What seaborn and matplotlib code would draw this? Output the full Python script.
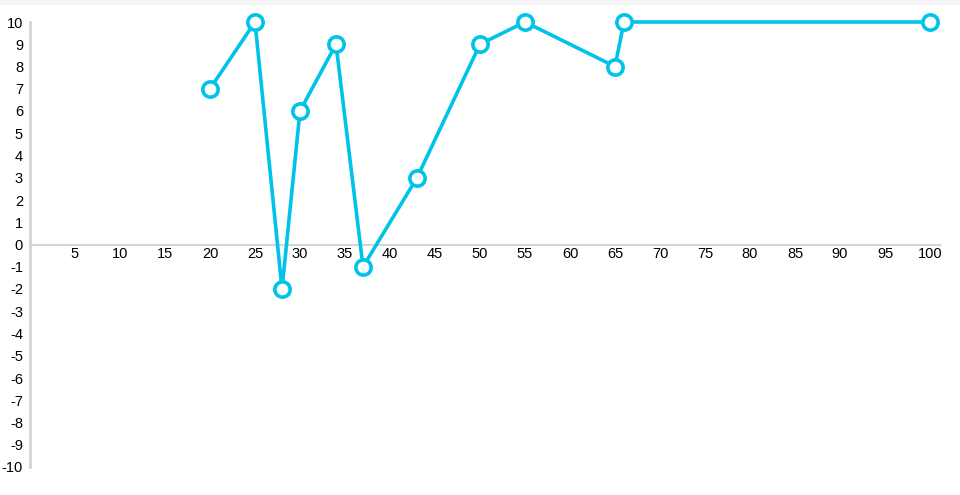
import matplotlib
matplotlib.use("Agg")
import matplotlib.pyplot as plt
from matplotlib.patches import Rectangle
import seaborn as sns
import pandas as pd

# 数据
x_vals = [20, 25, 28, 30, 34, 37, 43, 50, 55, 65, 66, 100]
y_vals = [7, 10, -2, 6, 9, -1, 3, 9, 10, 8, 10, 10]
x_ticks = list(range(5, 101, 5))
y_ticks = list(range(-10, 11))

line_color = "#00C3EA"
axis_color = "#d4d4d4"

sns.set_style("white")
plt.rcParams['font.family'] = ['Liberation Sans', 'DejaVu Sans']

df = pd.DataFrame({"x": x_vals, "y": y_vals})

fig = plt.figure(figsize=(9.6, 4.95), dpi=100)
# 顶部浅灰条
fig.patches.append(Rectangle((0, 1 - 5 / 495), 1, 5 / 495, transform=fig.transFigure,
                             facecolor="#f4f4f4", edgecolor="none", zorder=0))
ax = fig.add_axes([30 / 960, 28 / 495, 910 / 960, 445 / 495])

sns.lineplot(data=df, x="x", y="y", ax=ax, color=line_color, linewidth=2.6,
             marker="o", markersize=11, markerfacecolor="white",
             markeredgecolor=line_color, markeredgewidth=2.6, clip_on=False, zorder=3)

ax.set_xlim(0, 910 / 9)
ax.set_ylim(-10, 10)
ax.set_xticks(x_ticks)
ax.set_yticks(y_ticks)
ax.set_xticklabels([str(t) for t in x_ticks])
ax.set_yticklabels([str(t) for t in y_ticks])
ax.set_xlabel("")
ax.set_ylabel("")

for side in ["top", "right"]:
    ax.spines[side].set_visible(False)
ax.spines["bottom"].set_position(("data", 0))
ax.spines["bottom"].set_color(axis_color)
ax.spines["left"].set_color(axis_color)
ax.spines["bottom"].set_linewidth(1.5)
ax.spines["left"].set_linewidth(2)
ax.tick_params(axis="both", length=0, labelsize=10.5, colors="black")
ax.tick_params(axis="x", pad=2)
ax.tick_params(axis="y", pad=5)

fig.savefig("out.png", dpi=100)
